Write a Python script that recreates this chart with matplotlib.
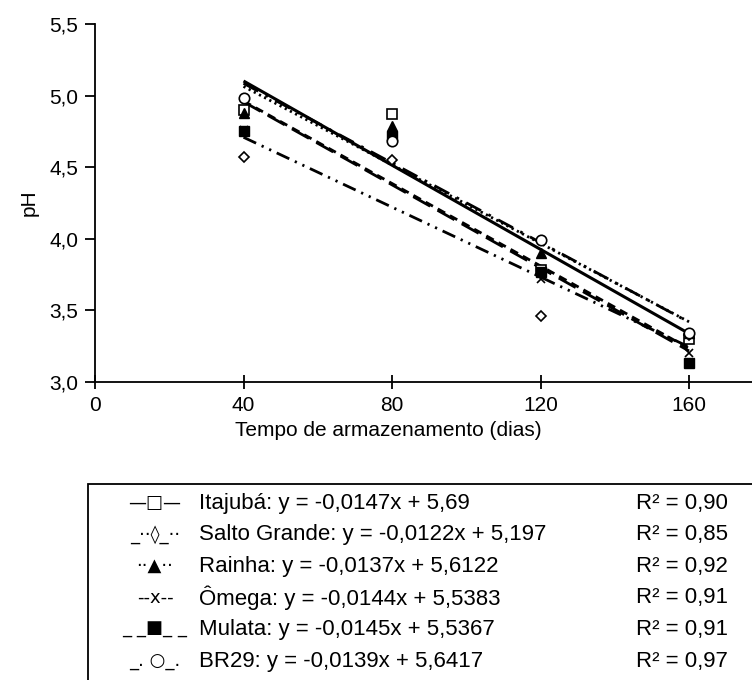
import numpy as np
import matplotlib
matplotlib.use("Agg")
import matplotlib.pyplot as plt
from matplotlib.patches import Rectangle

plt.rcParams['font.family'] = ['Liberation Sans', 'DejaVu Sans']

# ---- data ----
days = [40, 80, 120, 160]
cultivars = ["Itajubá", "Salto Grande", "Rainha", "Ômega", "Mulata", "BR29"]
ph_itajuba = [4.90, 4.87, 3.78, 3.30]
ph_salto = [4.57, 4.55, 3.46, 3.33]
ph_rainha = [4.88, 4.79, 3.90, 3.34]
ph_omega = [4.76, 4.71, 3.72, 3.20]
ph_mulata = [4.75, 4.72, 3.77, 3.13]
ph_br29 = [4.98, 4.68, 3.99, 3.34]
slopes = [-0.0147, -0.0122, -0.0137, -0.0144, -0.0145, -0.0139]
intercepts = [5.69, 5.197, 5.6122, 5.5383, 5.5367, 5.6417]
eq_labels = ["Itajubá: y = -0,0147x + 5,69",
             "Salto Grande: y = -0,0122x + 5,197",
             "Rainha: y = -0,0137x + 5,6122",
             "Ômega: y = -0,0144x + 5,5383",
             "Mulata: y = -0,0145x + 5,5367",
             "BR29: y = -0,0139x + 5,6417"]
r2_labels = ["R² = 0,90", "R² = 0,85", "R² = 0,92", "R² = 0,91", "R² = 0,91", "R² = 0,97"]
legend_symbols = ["—□—", "_··◊_··", "··▲··", "--x--", "_ _■_ _", "_. ○_."]
x_ticks = [0, 40, 80, 120, 160]
y_ticks = [3.0, 3.5, 4.0, 4.5, 5.0, 5.5]

series = [ph_itajuba, ph_salto, ph_rainha, ph_omega, ph_mulata, ph_br29]

# ---- layout ----
W, H = 752, 680
fig = plt.figure(figsize=(W / 100, H / 100), dpi=100)
ax_left, ax_bottom, ax_top = 95, 382, 24
ax = fig.add_axes([ax_left / W, 1 - ax_bottom / H, 1 - ax_left / W + 0.02, (ax_bottom - ax_top) / H])

markers = [dict(marker='s', mfc='white', mec='black', ms=7.5, mew=1.2),
           dict(marker='D', mfc='white', mec='black', ms=5, mew=1.2),
           dict(marker='^', mfc='black', mec='black', ms=7.5),
           dict(marker='x', mfc='black', mec='black', ms=6, mew=1.2),
           dict(marker='s', mfc='black', mec='black', ms=7),
           dict(marker='o', mfc='white', mec='black', ms=7.5, mew=1.2)]
lstyles = ['-',
           (0, (5, 2.2, 0.8, 2.2, 0.8, 2.2)),
           (0, (0.8, 1.3)),
           (0, (3, 2)),
           (0, (7, 3)),
           (0, (6, 3, 1, 3))]
lwidths = [2.2, 2.0, 2.0, 2.0, 2.0, 2.0]

xfit = np.array([days[0], days[-1]], dtype=float)
for s, b, ls, lw in zip(slopes, intercepts, lstyles, lwidths):
    ax.plot(xfit, s * xfit + b, color='black', lw=lw, linestyle=ls, zorder=2,
            solid_capstyle='butt', dash_capstyle='butt')
for ys, mk in zip(series, markers):
    ax.plot(days, ys, linestyle='none', zorder=3, **mk)

ax.set_xlim(0, 181)
ax.set_ylim(3.0, 5.5)
ax.set_xticks(x_ticks)
ax.set_yticks(y_ticks)
ax.set_yticklabels([f"{v:.1f}".replace('.', ',') for v in y_ticks])
ax.set_xticklabels([str(v) for v in x_ticks])
ax.spines['top'].set_visible(False)
ax.spines['right'].set_visible(False)
for sp in ['left', 'bottom']:
    ax.spines[sp].set_linewidth(1.3)
ax.tick_params(axis='both', width=1.3, labelsize=15, colors='black', pad=5)
ax.tick_params(axis='x', direction='inout', length=10)
ax.tick_params(axis='y', direction='out', length=7)
ax.set_xlabel("Tempo de armazenamento (dias)", fontsize=15)
ax_h_px = ax_bottom - ax_top
ax.xaxis.set_label_coords((388 - ax_left) / (W * ax.get_position().width), -(421 - ax_bottom) / ax_h_px)
ax.set_ylabel("pH", fontsize=15, labelpad=8)

# ---- legend table ----
box_left, box_top = 88, 484
fig.add_artist(Rectangle((box_left / W, -0.05), 1.2, 1 - box_top / H + 0.05,
                         transform=fig.transFigure, fill=False, lw=1.3, ec='black'))
row0, row_step = 503, 31.6
for i in range(len(cultivars)):
    y = 1 - (row0 + i * row_step) / H
    fig.text(155 / W, y, legend_symbols[i], ha='center', va='center', fontsize=13,
             family=['DejaVu Sans'])
    fig.text(199 / W, y, eq_labels[i], ha='left', va='center', fontsize=16)
    fig.text(636 / W, y, r2_labels[i], ha='left', va='center', fontsize=16)

fig.savefig("out.png", dpi=100)
